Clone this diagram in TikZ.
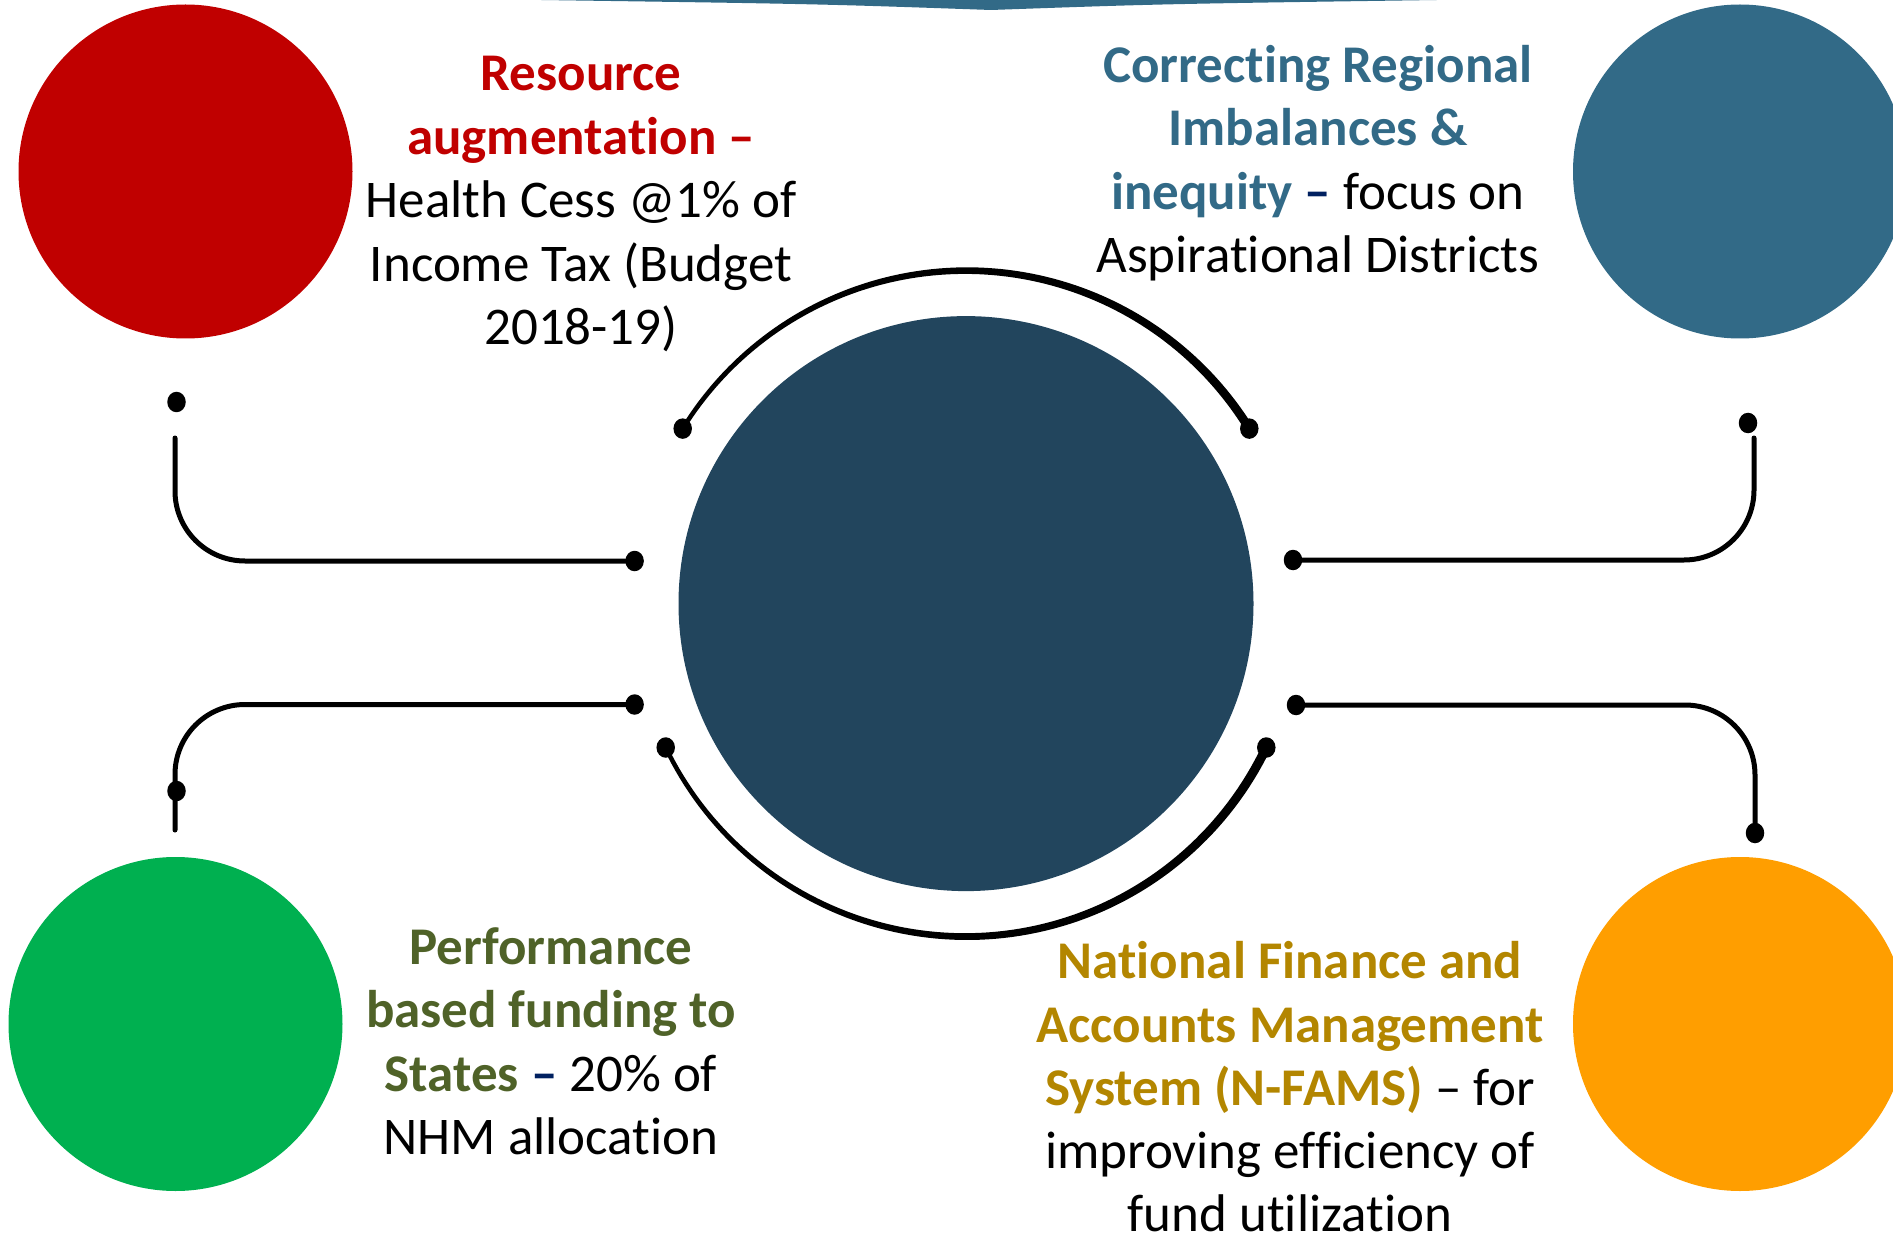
\documentclass[tikz,border=0pt]{standalone}
\usepackage{fontspec}
\usetikzlibrary{shapes.geometric}
\setmainfont{Carlito}[RawFeature=-liga]
\definecolor{cRed}{HTML}{C00000}
\definecolor{cBlue}{HTML}{326A87}
\definecolor{cDark}{HTML}{22455D}
\definecolor{cGreen}{HTML}{00B050}
\definecolor{cOrange}{HTML}{FF9E00}
\definecolor{cNavy}{HTML}{002060}
\definecolor{cOlive}{HTML}{4F6228}
\definecolor{cGold}{HTML}{B38600}
\begin{document}
\begin{tikzpicture}[x=1pt,y=-1pt,
  blob/.style={ellipse, fill=black, inner sep=0pt, minimum width=18.5pt, minimum height=20.5pt},
  bigdisc/.style={circle, inner sep=0pt, minimum size=334pt},
  wire/.style={line width=5pt, line cap=round, rounded corners=70pt},
  txt/.style={anchor=base, inner sep=0pt, font=\fontsize{53}{63.5}\selectfont}]
\useasboundingbox (0,0) rectangle (1893,1238);
\clip (0,0) rectangle (1893,1238);

% top banner
\fill[cBlue] (541,0) .. controls (820,4) .. (991,10) .. controls (1160,4) .. (1437,0) -- cycle;

% discs
\node[bigdisc, fill=cRed] (cR) at (185.5,171.5) {};
\node[bigdisc, fill=cBlue] (cB) at (1740,171.5) {};
\node[bigdisc, fill=cGreen] (cG) at (175.5,1024) {};
\node[bigdisc, fill=cOrange] (cO) at (1740,1024) {};
\node[circle, inner sep=0pt, minimum size=575pt, fill=cDark] (cen) at (966,603.6) {};

% left connectors
\node[blob] (dTLv) at (176.5,402) {};
\coordinate (sTL) at (175,438);
\node[blob] (dTLh) at (634.6,561) {};
\draw[wire] (sTL) |- (dTLh.center);

\node[blob] (dLLh) at (634.6,704.5) {};
\coordinate (eLL) at (175,830);
\draw[wire] (dLLh.center) -| (eLL);
\node[blob] (dLLv) at (176.5,791) {};

% right connectors
\node[blob] (dTRv) at (1748,423) {};
\coordinate (sTR) at (1754,438);
\node[blob] (dTRh) at (1293,560) {};
\draw[wire] (sTR) |- (dTRh.center);

\node[blob] (dLRh) at (1296,705) {};
\node[blob] (dLRv) at (1755,833) {};
\draw[wire] (dLRh.center) -| (dLRv.center);

% arcs around centre
\node[blob] (dA) at (682.7,428.6) {};
\node[blob] (dB) at (1249.3,428.6) {};
\fill (dA.center) -- plot[domain=-148.3:-31.7, samples=90, variable=\t]
  ({966+(335.2+2.2*(\t+148.3)/116.6)*cos(\t)}, {603.6+(335.2+2.2*(\t+148.3)/116.6)*sin(\t)})
  -- (dB.center) -- plot[domain=-31.7:-148.3, samples=90, variable=\t]
  ({966+(330.8-2.2*(\t+148.3)/116.6)*cos(\t)}, {603.6+(330.8-2.2*(\t+148.3)/116.6)*sin(\t)})
  -- cycle;

\node[blob] (dC) at (665.7,747.5) {};
\node[blob] (dD) at (1266.3,747.5) {};
\fill (dC.center) -- plot[domain=154.4:25.6, samples=90, variable=\t]
  ({966+(335.2+2.4*(154.4-\t)/128.8)*cos(\t)}, {603.6+(335.2+2.4*(154.4-\t)/128.8)*sin(\t)})
  -- (dD.center) -- plot[domain=25.6:154.4, samples=90, variable=\t]
  ({966+(330.8-2.4*(154.4-\t)/128.8)*cos(\t)}, {603.6+(330.8-2.4*(154.4-\t)/128.8)*sin(\t)})
  -- cycle;

% text block 1
\node[txt, text=cRed] (t1a) at (581,91) {\bfseries Resource};
\node[txt, text=cRed] (t1b) at (581,155) {\bfseries augmentation –};
\node[txt] (t1c) at (581,218) {Health Cess @1\% of};
\node[txt] (t1d) at (581,282) {Income Tax (Budget};
\node[txt] (t1e) at (581,345) {2018-19)};

% text block 2
\node[txt, text=cBlue] (t2a) at (1318,83) {\bfseries Correcting Regional};
\node[txt, text=cBlue] (t2b) at (1318,146) {\bfseries Imbalances \&};
\node[txt] (t2c) at (1318,209.5) {{\bfseries\color{cBlue}inequity} {\bfseries\color{cNavy}–} focus on};
\node[txt] (t2d) at (1318,273) {Aspirational Districts};

% text block 3
\node[txt, text=cOlive] (t3a) at (551,964) {\bfseries Performance};
\node[txt, text=cOlive] (t3b) at (551,1027.5) {\bfseries based funding to};
\node[txt] (t3c) at (551,1091) {{\bfseries\color{cOlive}States} {\bfseries\color{cNavy}–} 20\% of};
\node[txt] (t3d) at (551,1154.5) {NHM allocation};

% text block 4
\node[txt, text=cGold] (t4a) at (1290,978) {\bfseries National Finance and};
\node[txt, text=cGold] (t4b) at (1290,1042) {\bfseries Accounts Management};
\node[txt] (t4c) at (1290,1105) {{\bfseries\color{cGold}System (N-FAMS)} – for};
\node[txt] (t4d) at (1290,1168) {improving efficiency of};
\node[txt] (t4e) at (1290,1231) {fund utilization};
\end{tikzpicture}
\end{document}
